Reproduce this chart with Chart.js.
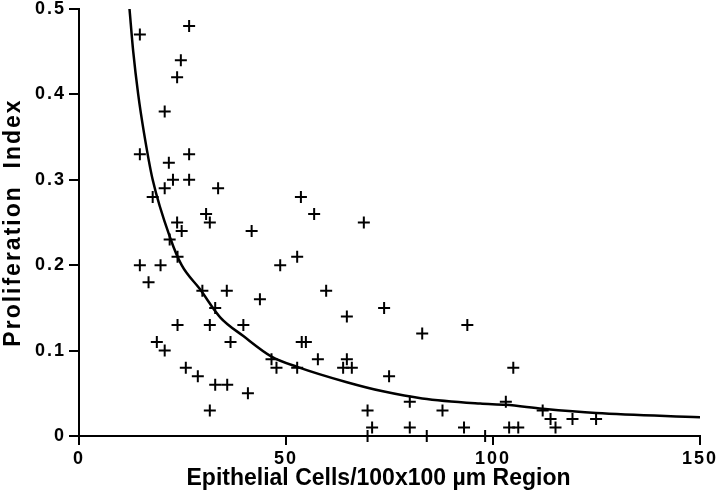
<!DOCTYPE html>
<html>
<head>
<meta charset="utf-8">
<script src="https://cdn.jsdelivr.net/npm/chart.js@4.4.1/dist/chart.umd.min.js"></script>
<style>
html,body{margin:0;padding:0;background:#fff;}
canvas{display:block;}
</style>
</head>
<body>
<canvas id="c" width="720" height="500"></canvas>
<script>
// Observed data points (cells per 100x100 µm region, proliferation index)
const cellCounts = [14.7, 26.6, 24.6, 23.7, 20.7, 14.7, 26.6, 21.7, 22.7, 26.6,
  20.7, 33.6, 17.8, 30.7, 31.6, 23.7, 24.8, 21.9, 14.7, 19.7,
  16.8, 23.8, 29.8, 35.7, 32.9, 23.8, 31.6, 18.8, 20.7, 36.6,
  25.8, 28.7, 32.9, 35.8, 31.6, 39.7, 41.7, 68.8, 52.7, 48.6,
  59.7, 43.7, 64.7, 73.7, 82.9, 93.8, 53.8, 54.8, 46.5, 47.7,
  52.7, 57.7, 64.7, 63.8, 65.9, 74.9, 40.8, 69.7, 70.8, 69.7,
  79.9, 79.9, 84.0, 87.8, 93.0, 53.6, 56.8, 104.9, 103.1, 112.0,
  113.9, 119.2, 124.9, 115.1, 103.9, 106.1, 98.1];
const prolifIndex = [0.47, 0.48, 0.44, 0.42, 0.38, 0.33, 0.33, 0.32, 0.30, 0.30,
  0.29, 0.29, 0.28, 0.26, 0.25, 0.25, 0.24, 0.23, 0.20, 0.20,
  0.18, 0.21, 0.17, 0.17, 0.15, 0.13, 0.13, 0.11, 0.10, 0.11,
  0.08, 0.07, 0.06, 0.06, 0.03, 0.13, 0.24, 0.25, 0.21, 0.20,
  0.17, 0.16, 0.14, 0.15, 0.12, 0.13, 0.11, 0.11, 0.09, 0.08,
  0.08, 0.09, 0.09, 0.08, 0.08, 0.07, 0.05, 0.03, 0.01, 0.00,
  0.04, 0.01, 0.00, 0.03, 0.01, 0.28, 0.26, 0.08, 0.04, 0.03,
  0.02, 0.02, 0.02, 0.01, 0.01, 0.01, 0.00];

// Fitted curve
const curveX = [12.2, 13.1, 14.3, 15.7, 17.8, 22.1, 24.8, 29.2, 34.1, 39.7, 46.5, 52.7, 64.7, 73.7, 82.9, 96.9, 103.1, 112.0, 124.9, 150.0];
const curveY = [0.50, 0.45, 0.40, 0.355, 0.30, 0.231, 0.20, 0.172, 0.139, 0.117, 0.093, 0.081, 0.063, 0.052, 0.044, 0.038, 0.0365, 0.032, 0.027, 0.022];

const xTicks = [0, 50, 100, 150];
const yTicks = [0, 0.1, 0.2, 0.3, 0.4, 0.5];
const xTitle = 'Epithelial Cells/100x100 µm Region';
const yTitle = 'Proliferation  Index';

const scatterData = cellCounts.map((x, i) => ({x: x, y: prolifIndex[i]}));
const curveData = curveX.map((x, i) => ({x: x, y: curveY[i]}));

const tickFont = {family: 'Liberation Sans', size: 18, weight: 'bold'};
const titleFont = {family: 'Liberation Sans', size: 23, weight: 'bold'};

// letter spacing / small offsets for tick labels and titles (styling only)
const labelSpacing = {x: '2px', y: '2px'};
const titleSpacing = {x: '0px', y: '2px'};
const titleShift = {x: -11, y: 0};
const SP = Chart.Scale.prototype;
const origLabels = SP.drawLabels, origTitle = SP.drawTitle;
SP.drawLabels = function (a) {
  const ctx = this.ctx; ctx.save();
  ctx.letterSpacing = labelSpacing[this.id] || '0px';
  origLabels.call(this, a); ctx.restore();
};
SP.drawTitle = function (a) {
  const ctx = this.ctx; ctx.save();
  ctx.letterSpacing = titleSpacing[this.id] || '0px';
  ctx.translate(titleShift[this.id] || 0, 0);
  origTitle.call(this, a); ctx.restore();
};

new Chart(document.getElementById('c'), {
  type: 'scatter',
  data: {
    datasets: [
      {
        data: scatterData,
        pointStyle: 'cross',
        pointRadius: 6,
        pointHoverRadius: 6,
        borderColor: '#000',
        backgroundColor: '#000',
        pointBorderWidth: 2,
        showLine: false,
        clip: false
      },
      {
        data: curveData,
        showLine: true,
        pointRadius: 0,
        borderColor: '#000',
        borderWidth: 2.5,
        cubicInterpolationMode: 'monotone',
        fill: false
      }
    ]
  },
  options: {
    responsive: false,
    animation: false,
    devicePixelRatio: 1,
    layout: {padding: {left: 0, right: 20, top: 9, bottom: 0}},
    plugins: {legend: {display: false}, tooltip: {enabled: false}},
    scales: {
      x: {
        type: 'linear',
        min: 0, max: 150,
        afterBuildTicks: s => { s.ticks = xTicks.map(v => ({value: v})); },
        afterFit: s => { s.height = 64; s.paddingLeft = 0; s.paddingRight = 0; },
        grid: {drawOnChartArea: false, drawTicks: true, tickLength: 9, color: '#000', lineWidth: 2},
        border: {color: '#000', width: 2},
        ticks: {color: '#000', font: tickFont, padding: 3, maxRotation: 0},
        title: {display: true, text: xTitle, color: '#000', font: titleFont, padding: {top: 0, bottom: 8}}
      },
      y: {
        type: 'linear',
        min: 0, max: 0.5,
        afterBuildTicks: s => { s.ticks = yTicks.map(v => ({value: v})); },
        afterFit: s => { s.width = 79; s.paddingTop = 0; s.paddingBottom = 0; },
        grid: {drawOnChartArea: false, drawTicks: true, tickLength: 10, color: '#000', lineWidth: 2},
        border: {color: '#000', width: 2},
        ticks: {color: '#000', font: tickFont, padding: 3,
          callback: v => v === 0 ? '0' : v.toFixed(1)},
        title: {display: true, text: yTitle, color: '#000', font: titleFont, padding: {top: 0, bottom: 0}}
      }
    }
  }
});
</script>
</body>
</html>
